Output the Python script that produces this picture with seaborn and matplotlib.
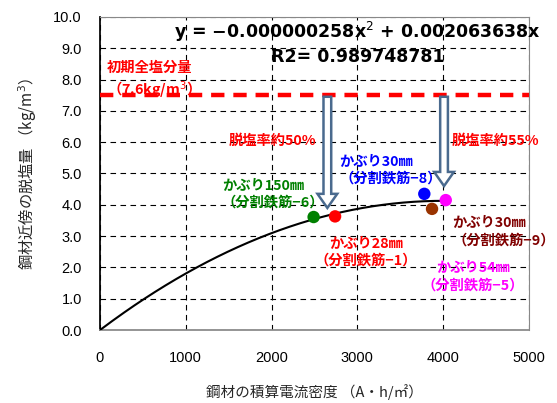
import numpy as np
import pandas as pd
import matplotlib
matplotlib.use("Agg")
import matplotlib.pyplot as plt
import seaborn as sns
from matplotlib.patches import FancyArrow

# ---- data ----
labels = ["かぶり150㎜\n（分割鉄筋−6）", "かぶり28㎜\n（分割鉄筋−1）", "かぶり30㎜\n（分割鉄筋−8）",
          "かぶり30㎜\n（分割鉄筋−9）", "かぶり54㎜\n（分割鉄筋−5）"]
current = [2490, 2740, 3780, 3870, 4030]
removed = [3.61, 3.63, 4.35, 3.87, 4.15]
colors = ["#008000", "#FF0000", "#0000FF", "#993300", "#FF00FF"]
text_colors = ["#008000", "#FF0000", "#0000FF", "#800000", "#FF00FF"]
coef_a = -0.000000258
coef_b = 0.002063638
fit_x_max = 4000
initial_salt = 7.5
arrow_x = [2650, 4010]
arrow_tip = [3.9, 4.6]
x_ticks = [0, 1000, 2000, 3000, 4000, 5000]
y_ticks = [0, 1, 2, 3, 4, 5, 6, 7, 8, 9, 10]

sns.set_theme(style="white")
plt.rcParams['font.family'] = ['Noto Sans CJK JP', 'DejaVu Sans']
plt.rcParams['text.color'] = 'black'

fig = plt.figure(figsize=(5.57, 4.03), dpi=100)
ax = fig.add_axes([0.1795, 0.181, 0.7702, 0.777])

fx = np.linspace(0, fit_x_max, 200)
fy = coef_a * fx**2 + coef_b * fx
sns.lineplot(x=fx, y=fy, ax=ax, color="black", lw=1.5, zorder=3)

df = pd.DataFrame({"x": current, "y": removed, "lab": labels})
sns.scatterplot(data=df, x="x", y="y", hue="lab", palette=colors, s=80,
                edgecolor="none", legend=False, ax=ax, zorder=5)

ax.axhline(initial_salt, color="#FF0000", lw=3.2, ls=(0, (3, 2)), zorder=4)

for xa, tip in zip(arrow_x, arrow_tip):
    ar = FancyArrow(xa, initial_salt - 0.05, 0, tip - initial_salt + 0.05,
                    width=90, head_width=230, head_length=0.45,
                    length_includes_head=True, facecolor="white",
                    edgecolor="#4A6A8E", lw=1.8, zorder=4)
    ax.add_patch(ar)

ax.set_xlim(0, 5000)
ax.set_ylim(0, 10)
ax.set_xticks(x_ticks)
ax.set_yticks(y_ticks)
ax.set_yticklabels([f"{v:.1f}" for v in y_ticks])
ax.tick_params(axis="both", labelsize=10.5, colors="black", length=0)
ax.tick_params(axis="y", pad=13)
ax.tick_params(axis="x", pad=15)
for t in ax.get_xticklabels() + ax.get_yticklabels():
    t.set_family(["Liberation Sans"])
ax.grid(True, color="black", ls=(0, (5, 4)), lw=0.8)
for s in ["top", "right"]:
    ax.spines[s].set_color("#888888")
    ax.spines[s].set_linewidth(0.8)
ax.spines["left"].set_color("black")
ax.spines["bottom"].set_color("#888888")
for s in ax.spines.values():
    s.set_visible(True)

ax.set_xlabel("鋼材の積算電流密度 （A・h/㎡）", fontsize=10.5, labelpad=14)
ax.set_ylabel("鋼材近傍の脱塩量 （kg/m$^3$）", fontsize=11, labelpad=10)

ax.text(3000, 9.52, "y = −0.000000258x$^2$ + 0.002063638x", fontsize=12.5,
        fontweight="bold", ha="center", va="center", family=["DejaVu Sans"])
ax.text(3000, 8.72, "R2= 0.989748781", fontsize=12.5, fontweight="bold",
        ha="center", va="center", family=["DejaVu Sans"])

bold = dict(fontweight="bold", fontsize=10.3, va="center", linespacing=1.35)
ax.text(80, 7.95, "初期全塩分量\n（7.6kg/m$^3$）", color="#FF0000", ha="left", **bold)
ax.text(2520, 6.04, "脱塩率約50%", color="#FF0000", ha="right", **bold)
ax.text(4100, 6.04, "脱塩率約55%", color="#FF0000", ha="left", **bold)
ax.text(2786, 5.11, labels[2], color=text_colors[2], ha="left", **bold)
ax.text(1422, 4.36, labels[0], color=text_colors[0], ha="left", **bold)
ax.text(3100, 2.49, labels[1], color=text_colors[1], ha="center", multialignment="center", **bold)
ax.text(4103, 3.15, labels[3], color=text_colors[3], ha="left", **bold)
ax.text(4347, 1.71, labels[4], color=text_colors[4], ha="center", multialignment="center", **bold)

fig.savefig("out.png", dpi=100)
